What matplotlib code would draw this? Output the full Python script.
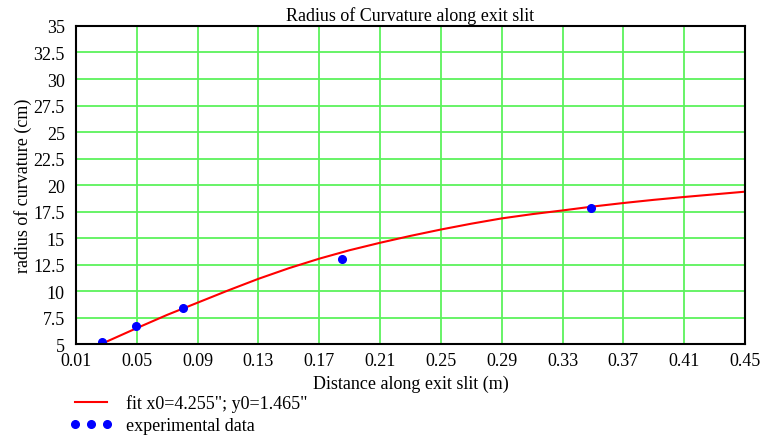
import matplotlib.pyplot as plt

plt.rcParams['font.family'] = ['Liberation Serif', 'DejaVu Serif']

# fit curve
fit_x = [0.0285, 0.05, 0.07, 0.09, 0.11, 0.13, 0.15, 0.17, 0.19, 0.21, 0.23,
         0.25, 0.27, 0.29, 0.31, 0.33, 0.35, 0.37, 0.39, 0.41, 0.43, 0.45]
fit_y = [5.12, 6.5, 7.75, 8.9, 10.05, 11.15, 12.15, 13.05, 13.85, 14.55, 15.2,
         15.8, 16.35, 16.85, 17.25, 17.6, 17.97, 18.3, 18.6, 18.87, 19.12, 19.37]

# experimental data
exp_x = [0.0272, 0.0495, 0.0804, 0.1847, 0.3488]
exp_y = [5.22, 6.69, 8.40, 13.05, 17.87]

x_ticks = [0.01, 0.05, 0.09, 0.13, 0.17, 0.21, 0.25, 0.29, 0.33, 0.37, 0.41, 0.45]
y_ticks = [5, 7.5, 10, 12.5, 15, 17.5, 20, 22.5, 25, 27.5, 30, 32.5, 35]

fig = plt.figure(figsize=(7.65, 4.39), dpi=100)
ax = fig.add_axes([0.0993, 0.2141, 0.8745, 0.7244])

ax.grid(True, color='#5cf25c', linewidth=1.3)
ax.set_axisbelow(True)

ax.plot(fit_x, fit_y, color='red', linewidth=1.5, label='fit x0=4.255"; y0=1.465"')
ax.plot(exp_x, exp_y, 'o', color='blue', markersize=5.5, linestyle='none',
        label='experimental data')

ax.set_xlim(0.01, 0.45)
ax.set_ylim(5, 35)
ax.set_xticks(x_ticks)
ax.set_xticklabels([f'{t:g}' for t in x_ticks])
ax.set_yticks(y_ticks)
ax.set_yticklabels([f'{t:g}' for t in y_ticks])
ax.tick_params(length=0, labelsize=13)
ax.tick_params(axis='x', pad=6)
ax.tick_params(axis='y', pad=8)

for s in ax.spines.values():
    s.set_color('black')
    s.set_linewidth(1.5)

ax.set_title('Radius of Curvature along exit slit', fontsize=13, pad=4)
ax.set_xlabel('Distance along exit slit (m)', fontsize=13, labelpad=4)
ax.set_ylabel('radius of curvature (cm)', fontsize=13, labelpad=1)

fig.legend(loc='upper left', bbox_to_anchor=(0.0905, 0.099), frameon=False,
           fontsize=13, numpoints=3, handlelength=2.4, handletextpad=0.75,
           labelspacing=0.25, borderaxespad=0, borderpad=0)

fig.savefig('out.png', dpi=100)
